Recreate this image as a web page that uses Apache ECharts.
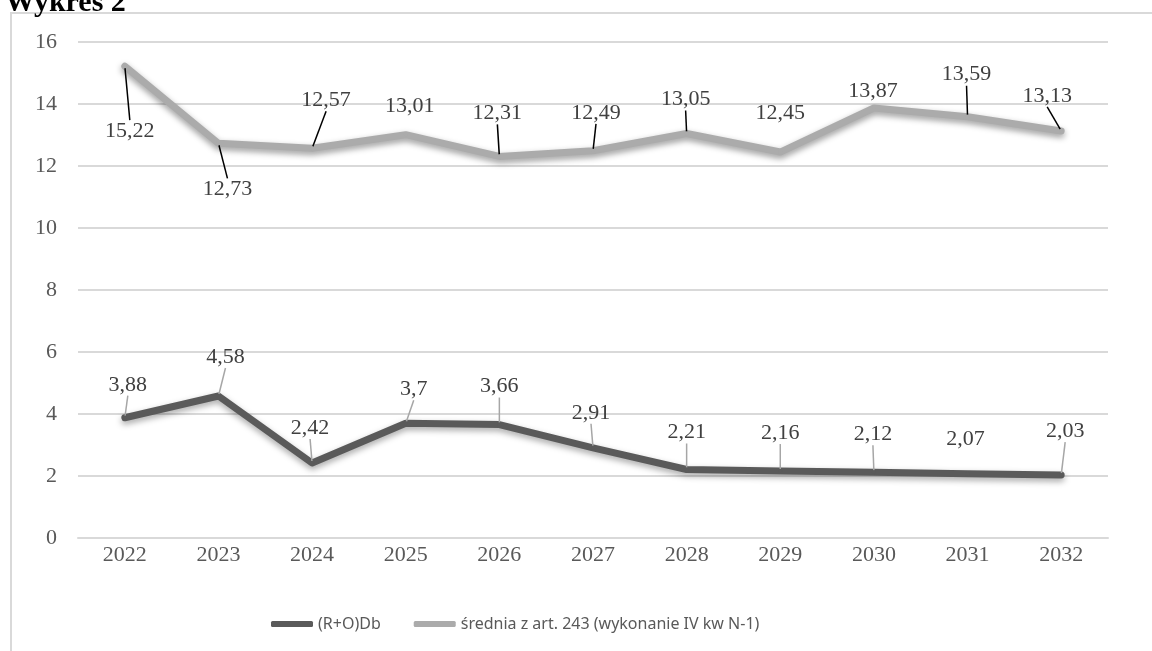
<!DOCTYPE html>
<html>
<head>
<meta charset="utf-8">
<script src="https://cdn.jsdelivr.net/npm/echarts@6/dist/echarts.min.js"></script>
<style>
  html, body { margin: 0; padding: 0; background: #fff; }
  #main { width: 1152px; height: 651px; }
</style>
</head>
<body>
<div id="main"></div>
<script>
// dane wykresu
var years = ['2022', '2023', '2024', '2025', '2026', '2027', '2028', '2029', '2030', '2031', '2032'];
var seriesNames = ['(R+O)Db', 'średnia z art. 243 (wykonanie IV kw N-1)'];
var rodb = [3.88, 4.58, 2.42, 3.7, 3.66, 2.91, 2.21, 2.16, 2.12, 2.07, 2.03];
var srednia = [15.22, 12.73, 12.57, 13.01, 12.31, 12.49, 13.05, 12.45, 13.87, 13.59, 13.13];
var yTicks = [0, 2, 4, 6, 8, 10, 12, 14, 16];

// przesuniecia etykiet (wzgledem punktu)
var rodbOffsets = [[3, -33], [7, -39], [-2, -35], [8, -34], [0, -38], [-2, -35], [0, -37], [0, -38], [-1, -38], [-2, -35], [4, -44]];
var sredniaOffsets = [[5, 65], [9, 46], [14, -48], [4, -28], [-2, -43], [3, -38], [-1, -34], [0, -39], [-1, -17], [-1, -42], [-14, -35]];
var sredniaNoLine = [3, 7, 8];
var rodbNoLine = [9];

function fmt(v) {
  return String(v).replace('.', ',');
}

function buildData(values, noLine) {
  return values.map(function (v, i) {
    var item = { value: v };
    if (noLine.indexOf(i) >= 0) item.labelLine = { show: false };
    return item;
  });
}

var chart = echarts.init(document.getElementById('main'));

var serif = '"Liberation Serif", "DejaVu Serif", serif';

var option = {
  backgroundColor: '#ffffff',
  animation: false,
  title: {
    text: 'Wykres 2',
    left: 0,
    top: -17,
    textStyle: { fontFamily: serif, fontWeight: 'bold', fontSize: 30, color: '#000' }
  },
  graphic: [{
    type: 'rect',
    shape: { x: 11, y: 13, width: 1300, height: 800 },
    style: { fill: 'none', stroke: '#d9d9d9', lineWidth: 2 },
    silent: true,
    z: -1
  }],
  grid: { left: 78, right: 44, top: 42, bottom: 113 },
  legend: {
    left: 266,
    top: 611,
    itemWidth: 42,
    itemHeight: 6,
    itemGap: 33,
    icon: 'roundRect',
    textStyle: { fontFamily: '"Noto Sans", "Open Sans", sans-serif', fontSize: 16, color: '#595959' },
    data: seriesNames
  },
  xAxis: {
    type: 'category',
    data: years,
    boundaryGap: true,
    axisLine: { show: true, lineStyle: { color: '#d9d9d9', width: 2 } },
    axisTick: { show: false },
    axisLabel: { fontFamily: serif, fontSize: 22, color: '#595959', margin: 6 }
  },
  yAxis: {
    type: 'value',
    min: yTicks[0],
    max: yTicks[yTicks.length - 1],
    interval: 2,
    axisLine: { show: false },
    axisTick: { show: false },
    splitLine: { lineStyle: { color: '#d9d9d9', width: 2 } },
    axisLabel: { fontFamily: serif, fontSize: 22, color: '#595959', margin: 21 }
  },
  series: [
    {
      name: seriesNames[0],
      type: 'line',
      data: buildData(rodb, rodbNoLine),
      symbol: 'circle',
      symbolSize: 4,
      showSymbol: true,
      itemStyle: { color: '#5a5a5a' },
      lineStyle: {
        color: '#5a5a5a', width: 7, cap: 'round', join: 'round',
        shadowColor: 'rgba(0,0,0,0.35)', shadowBlur: 6, shadowOffsetY: 3
      },
      label: {
        show: true,
        position: 'inside',
        fontFamily: serif,
        fontSize: 22,
        color: '#404040',
        formatter: function (p) { return fmt(p.value); }
      },
      labelLine: { show: true, lineStyle: { color: '#a6a6a6', width: 1.5 } },
      labelLayout: function (p) {
        var o = rodbOffsets[p.dataIndex];
        return { dx: o[0], dy: o[1] };
      }
    },
    {
      name: seriesNames[1],
      type: 'line',
      data: buildData(srednia, sredniaNoLine),
      symbol: 'circle',
      symbolSize: 4,
      showSymbol: true,
      itemStyle: { color: '#ababab' },
      lineStyle: {
        color: '#ababab', width: 7, cap: 'round', join: 'round',
        shadowColor: 'rgba(0,0,0,0.4)', shadowBlur: 6, shadowOffsetY: 3
      },
      label: {
        show: true,
        position: 'inside',
        fontFamily: serif,
        fontSize: 22,
        color: '#404040',
        formatter: function (p) { return fmt(p.value); }
      },
      labelLine: { show: true, lineStyle: { color: '#000', width: 1.5 } },
      labelLayout: function (p) {
        var o = sredniaOffsets[p.dataIndex];
        return { dx: o[0], dy: o[1] };
      }
    }
  ]
};

chart.setOption(option);
</script>
</body>
</html>
